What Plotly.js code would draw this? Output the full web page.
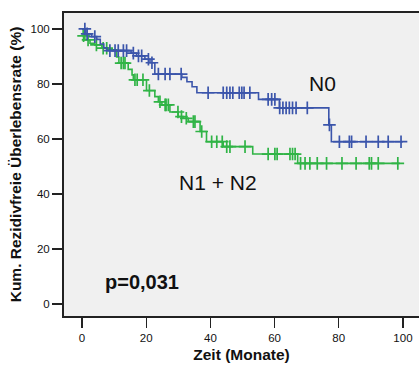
<!DOCTYPE html>
<html>
<head>
<meta charset="utf-8">
<script src="https://cdn.plot.ly/plotly-3.0.1.min.js"></script>
<style>html,body{margin:0;padding:0;background:#fff;}#chart{width:419px;height:365px;}</style>
</head>
<body>
<div id="chart"></div>
<script>
// N0 (blue) Kaplan-Meier steps
const n0EventTimes = [1.2, 3.0, 4.6, 5.7, 6.8, 7.8, 15.3, 17.0, 19.6, 21.2, 22.7, 31.1, 32.7, 34.3, 35.8, 55.0, 61.5, 76.9, 77.7];
const n0Survival   = [98.2, 97.2, 96.2, 94.5, 93.1, 92.1, 91.2, 90.2, 89.0, 87.7, 83.6, 82.4, 80.8, 79.0, 76.8, 74.4, 71.3, 65.1, 59.0];
const n0Censored   = [0.9, 1.6, 4.0, 8.7, 10.3, 11.3, 12.9, 13.9, 16.0, 17.6, 18.6, 20.7, 21.8, 23.8, 25.9, 27.4, 30.9, 39.3, 44.0, 45.1, 46.1, 47.0, 49.0, 49.8, 50.5, 52.3, 58.0, 59.1, 60.1, 61.6, 62.6, 63.6, 64.6, 65.6, 66.7, 70.2, 77.1, 80.2, 83.3, 84.0, 88.5, 92.3, 95.4, 99.4];
const n0LastTime   = 100;

// N1 + N2 (green) Kaplan-Meier steps
const n12EventTimes = [0.4, 0.9, 2.5, 4.0, 6.2, 7.8, 10.8, 11.5, 14.4, 15.6, 16.0, 20.1, 22.7, 23.8, 24.9, 27.4, 30.0, 31.5, 33.1, 36.8, 38.8, 44.0, 53.2, 67.2];
const n12Survival   = [97.5, 96.0, 94.8, 94.2, 93.0, 92.4, 89.8, 87.6, 85.3, 83.3, 81.5, 77.6, 75.4, 73.5, 72.4, 69.8, 68.1, 67.5, 66.3, 62.7, 59.0, 57.2, 54.5, 51.1];
const n12Censored   = [0.5, 1.9, 4.5, 6.6, 7.7, 12.2, 12.9, 13.4, 16.5, 17.2, 19.0, 21.0, 24.3, 25.9, 26.2, 26.9, 29.9, 31.0, 32.5, 34.7, 35.2, 37.3, 40.4, 42.0, 43.7, 45.1, 46.1, 50.8, 58.0, 60.1, 60.8, 64.8, 65.6, 66.4, 68.1, 69.5, 71.0, 73.3, 76.2, 81.0, 85.4, 89.5, 90.2, 92.3, 98.4];
const n12LastTime   = 99;

const xTicks = [0, 20, 40, 60, 80, 100];
const yTicks = [0, 20, 40, 60, 80, 100];
const groupLabels = ["N0", "N1 + N2"];
const pLabel = "p=0,031";

function stepXY(times, surv, last) {
  const x = [0].concat(times, [last]);
  const y = [100].concat(surv, [surv[surv.length - 1]]);
  return {x, y};
}
function survAt(times, surv, t) {
  let s = 100;
  for (let i = 0; i < times.length; i++) { if (times[i] <= t) s = surv[i]; }
  return s;
}

const BLUE = '#3b55ab', GREEN = '#30b446';
const traces = [];
function addGroup(times, surv, cens, last, color, name) {
  const s = stepXY(times, surv, last);
  traces.push({x: s.x, y: s.y, mode: 'lines', line: {shape: 'hv', color: color, width: 1.6}, name: name, hoverinfo: 'skip'});
  traces.push({x: cens, y: cens.map(t => survAt(times, surv, t)), mode: 'markers', name: name + ' zensiert',
    marker: {symbol: 'cross-thin', size: 9, color: color, line: {color: color, width: 1.7}}, hoverinfo: 'skip'});
}
addGroup(n12EventTimes, n12Survival, n12Censored, n12LastTime, GREEN, groupLabels[1]);
addGroup(n0EventTimes, n0Survival, n0Censored, n0LastTime, BLUE, groupLabels[0]);

const FONT = 'Liberation Sans, Arial, Helvetica, sans-serif';
const layout = {
  width: 419, height: 365,
  margin: {l: 64, r: 0, t: 13, b: 49},
  paper_bgcolor: '#ffffff', plot_bgcolor: '#f0f0f0',
  showlegend: false,
  font: {family: FONT, color: '#111'},
  xaxis: {
    range: [-5.6, 105.0], tickvals: xTicks, ticktext: xTicks.map(String),
    ticks: 'outside', ticklen: 10, tickwidth: 1.3, tickcolor: '#222',
    showgrid: false, zeroline: false, showline: true, linecolor: '#222', linewidth: 2, mirror: true,
    tickfont: {size: 11.5, family: FONT, color: '#111'},
    title: {text: 'Zeit (Monate)', font: {size: 15.5, family: FONT, color: '#111', weight: 'bold'}, standoff: 6}
  },
  yaxis: {
    range: [-4.4, 105.8], tickvals: yTicks, ticktext: yTicks.map(String),
    ticks: 'outside', ticklen: 10, tickwidth: 1.3, tickcolor: '#222',
    showgrid: false, zeroline: false, showline: true, linecolor: '#222', linewidth: 2,
    tickfont: {size: 11.5, family: FONT, color: '#111'},
    title: {text: 'Kum. Rezidivfreie Überlebensrate (%)', font: {size: 15.5, family: FONT, color: '#111', weight: 'bold'}, standoff: 5}
  },
  annotations: [
    {x: 74.9, y: 80.2, xref: 'x', yref: 'y', text: groupLabels[0], showarrow: false, font: {size: 21, family: FONT, color: '#111'}},
    {x: 42.4, y: 44.0, xref: 'x', yref: 'y', text: groupLabels[1], showarrow: false, font: {size: 21, family: FONT, color: '#111'}},
    {x: 18.8, y: 8.0, xref: 'x', yref: 'y', text: pLabel, showarrow: false, font: {size: 20, family: FONT, color: '#111', weight: 'bold'}}
  ]
};
Plotly.newPlot('chart', traces, layout, {displayModeBar: false, staticPlot: true});
</script>
</body>
</html>
